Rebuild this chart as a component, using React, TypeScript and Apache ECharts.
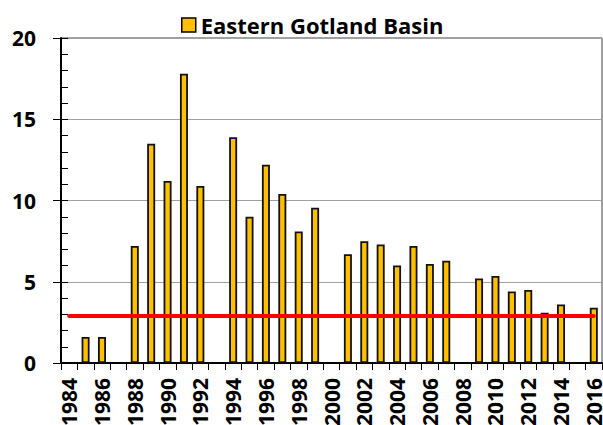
import React, { useEffect, useRef } from "react";
import * as echarts from "echarts";

const years: string[] = [
  "1984","1985","1986","1987","1988","1989","1990","1991","1992","1993","1994",
  "1995","1996","1997","1998","1999","2000","2001","2002","2003","2004","2005",
  "2006","2007","2008","2009","2010","2011","2012","2013","2014","2015","2016",
];
const basinValues: (number | null)[] = [
  null, 1.6, 1.6, null, 7.2, 13.5, 11.2, 17.8, 10.9, null, 13.9,
  9.0, 12.2, 10.4, 8.1, 9.55, null, 6.7, 7.5, 7.3, 6.0, 7.2,
  6.1, 6.3, null, 5.2, 5.35, 4.4, 4.5, 3.1, 3.6, null, 3.4,
];
const referenceLevel = 2.9;
const yMajorTicks = [0, 5, 10, 15, 20];

const FONT = "'Open Sans', 'Liberation Sans', sans-serif";

export default function App() {
  const ref = useRef<HTMLDivElement>(null);
  useEffect(() => {
    if (!ref.current) return;
    const chart = echarts.init(ref.current, undefined, { renderer: "svg" });
    const refLine = years.map(() => referenceLevel);
    chart.setOption({
      animation: false,
      backgroundColor: "#ffffff",
      grid: {
        left: 61,
        right: 1,
        top: 38,
        bottom: 62,
        containLabel: false,
        outerBoundsMode: "none",
        show: true,
        borderColor: "#404040",
        borderWidth: 1,
      },
      legend: {
        data: ["Eastern Gotland Basin"],
        left: 181,
        top: 13,
        padding: 0,
        itemWidth: 14,
        itemHeight: 14,
        icon: "rect",
        itemStyle: { color: "#FFC000", borderColor: "#000", borderWidth: 1.5 },
        textStyle: {
          fontFamily: FONT,
          fontWeight: "bold",
          fontSize: 22,
          lineHeight: 24,
          color: "#000",
        },
      },
      xAxis: {
        type: "category",
        data: years,
        boundaryGap: true,
        axisLine: { lineStyle: { color: "#000", width: 2 } },
        axisTick: { show: true, interval: 0, length: 7, lineStyle: { color: "#000", width: 1 } },
        axisLabel: {
          interval: 1,
          rotate: 90,
          margin: 15,
          fontFamily: FONT,
          fontWeight: "bold",
          fontSize: 21,
          color: "#000",
        },
        splitLine: { show: false },
      },
      yAxis: [
        {
          type: "value",
          position: "left",
          min: yMajorTicks[0],
          max: yMajorTicks[yMajorTicks.length - 1],
          interval: 5,
          axisLine: { show: true, lineStyle: { color: "#000", width: 2 } },
          axisTick: { show: true, inside: false, length: 8, lineStyle: { color: "#000", width: 1 } },
          axisLabel: {
            margin: 25,
            fontFamily: FONT,
            fontWeight: "bold",
            fontSize: 21,
            color: "#000",
          },
          splitLine: { show: true, lineStyle: { color: "#A0A0A0", width: 1 } },
        },
        {
          type: "value",
          position: "left",
          offset: 0,
          min: 0,
          max: 20,
          interval: 1,
          axisLine: { show: false },
          axisTick: { show: true, inside: true, length: 7, lineStyle: { color: "#000", width: 1 } },
          axisLabel: { show: false },
          splitLine: { show: false },
        },
      ],
      series: [
        {
          name: "Eastern Gotland Basin",
          type: "bar",
          data: basinValues,
          barWidth: 8,
          itemStyle: { color: "#FFC000", borderColor: "#111", borderWidth: 1.8 },
        },
        {
          name: "reference",
          type: "line",
          data: refLine,
          symbol: "none",
          lineStyle: { color: "#FF0000", width: 4, cap: "round" },
          itemStyle: { color: "#FF0000" },
          z: 5,
        },
      ],
    });
    return () => chart.dispose();
  }, []);
  return (
    <div
      ref={ref}
      style={{ position: "fixed", left: 0, top: 0, width: 603, height: 425 }}
    />
  );
}
